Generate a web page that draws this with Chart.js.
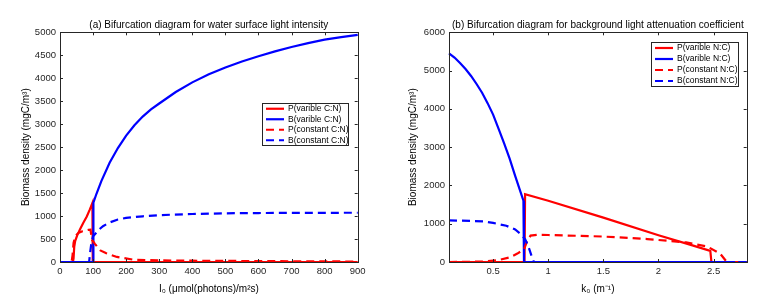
<!DOCTYPE html>
<html>
<head>
<meta charset="utf-8">
<script src="https://cdn.jsdelivr.net/npm/chart.js@4.4.0/dist/chart.umd.min.js"></script>
<style>
  body { margin: 0; background: #fff; }
  #wrap { position: relative; width: 769px; height: 308px; }
  .panel { position: absolute; top: 0; height: 308px; }
</style>
</head>
<body>
<div id="wrap">
  <div class="panel" style="left:0;width:385px"><canvas id="chartA"></canvas></div>
  <div class="panel" style="left:385px;width:384px"><canvas id="chartB"></canvas></div>
</div>
<script>
// (a) water surface light intensity I0
const aPvarX = [0, 39, 41, 43, 46, 52, 61, 71, 81, 90, 98, 99, 200, 900];
const aPvarY = [0, 0, 80, 330, 460, 580, 720, 860, 990, 1140, 1285, 0, 0, 0];

const aBvarX = [0, 101, 101, 110, 125, 150, 175, 200, 225, 250, 275, 300, 350, 400, 450, 500, 550, 600, 650, 700, 750, 800, 850, 900];
const aBvarY = [0, 0, 1290, 1480, 1760, 2160, 2480, 2750, 2975, 3165, 3320, 3450, 3700, 3910, 4085, 4235, 4365, 4480, 4585, 4680, 4765, 4840, 4895, 4945];

const aPconX = [0, 35, 38, 41, 46, 55, 66, 76, 86, 92, 97, 105, 122, 140, 172, 222, 300, 400, 500, 600, 700, 800, 900];
const aPconY = [0, 0, 150, 413, 560, 630, 665, 685, 700, 705, 480, 400, 253, 190, 110, 50, 35, 28, 24, 20, 16, 13, 10];

const aBconX = [0, 88, 91, 95, 100, 110, 117, 130, 150, 175, 200, 250, 300, 400, 500, 600, 700, 800, 900];
const aBconY = [0, 0, 200, 420, 560, 640, 700, 780, 860, 925, 960, 995, 1020, 1045, 1060, 1066, 1069, 1071, 1072];

const aXTicks = [0, 100, 200, 300, 400, 500, 600, 700, 800, 900];
const aYTicks = [0, 500, 1000, 1500, 2000, 2500, 3000, 3500, 4000, 4500, 5000];

// (b) background light attenuation coefficient k0
const bPvarX = [0.1, 0.5, 0.785, 0.79, 1.0, 1.5, 2.0, 2.3, 2.47, 2.48, 2.8];
const bPvarY = [0, 0, 0, 1770, 1600, 1160, 700, 440, 290, 0, 0];

const bBvarX = [0.1, 0.15, 0.2, 0.25, 0.3, 0.35, 0.4, 0.45, 0.5, 0.55, 0.6, 0.65, 0.7, 0.775, 0.78, 2.8];
const bBvarY = [5452, 5340, 5200, 5040, 4860, 4650, 4420, 4150, 3850, 3480, 3100, 2700, 2250, 1600, 0, 0];

const bPconX = [0.1, 0.4, 0.55, 0.65, 0.72, 0.78, 0.81, 0.84, 0.9, 1.0, 1.5, 1.9, 2.25, 2.44, 2.56, 2.62, 2.8];
const bPconY = [0, 10, 50, 120, 220, 330, 550, 690, 710, 705, 665, 600, 512, 407, 217, 0, 0];

const bBconX = [0.1, 0.3, 0.41, 0.5, 0.62, 0.7, 0.74, 0.79, 0.82, 0.85, 0.87, 2.8];
const bBconY = [1085, 1075, 1060, 1020, 947, 850, 756, 600, 408, 146, 0, 0];

const bXTicks = [0.5, 1, 1.5, 2, 2.5];
const bYTicks = [0, 1000, 2000, 3000, 4000, 5000, 6000];

const RED = 'rgb(255,0,0)';
const BLUE = 'rgb(0,0,255)';
const FONT = '"Liberation Sans", Arial, sans-serif';
const AXIS = '#262626';

function series(label, xs, ys, color, dashed, order) {
    return {
        label: label,
        data: xs.map((x, i) => ({x: x, y: ys[i]})),
        borderColor: color,
        backgroundColor: color,
        borderWidth: 2.2,
        borderDash: dashed ? [8, 5] : [],
        pointRadius: 0,
        tension: 0,
        fill: false,
        clip: false,
        order: order
    };
}

// box round the plot with inward ticks on all four sides
const matlabBox = {
    id: 'matlabBox',
    afterDatasetsDraw(chart) {
        const {ctx, chartArea: a, scales} = chart;
        ctx.save();
        ctx.strokeStyle = AXIS;
        ctx.lineWidth = 1;
        ctx.beginPath();
        scales.x.ticks.forEach(t => {
            const px = Math.round(scales.x.getPixelForValue(t.value)) + 0.5;
            ctx.moveTo(px, a.bottom); ctx.lineTo(px, a.bottom - 3);
            ctx.moveTo(px, a.top); ctx.lineTo(px, a.top + 3);
        });
        scales.y.ticks.forEach(t => {
            const py = Math.round(scales.y.getPixelForValue(t.value)) + 0.5;
            ctx.moveTo(a.left, py); ctx.lineTo(a.left + 3, py);
            ctx.moveTo(a.right, py); ctx.lineTo(a.right - 3, py);
        });
        ctx.stroke();
        ctx.strokeRect(Math.round(a.left) + 0.5, Math.round(a.top) + 0.5,
            Math.round(a.right - a.left), Math.round(a.bottom - a.top));
        ctx.restore();
    }
};

// title centred over the plot area, like the axes title in the figure
const plotTitle = {
    id: 'plotTitle',
    afterDraw(chart, args, opts) {
        const {ctx, chartArea: a} = chart;
        ctx.save();
        ctx.fillStyle = '#000';
        ctx.font = '10px ' + FONT;
        ctx.textAlign = 'center';
        ctx.textBaseline = 'middle';
        ctx.fillText(opts.text, (a.left + a.right) / 2, a.top - 7);
        ctx.restore();
    }
};

// legend box inside the plot
const boxLegend = {
    id: 'boxLegend',
    afterDraw(chart, args, opts) {
        const {ctx} = chart;
        const {x, y, w, h} = opts;
        ctx.save();
        ctx.fillStyle = '#fff';
        ctx.fillRect(x, y, w, h);
        ctx.strokeStyle = AXIS;
        ctx.lineWidth = 1;
        ctx.strokeRect(x + 0.5, y + 0.5, w, h);
        const rowH = h / chart.data.datasets.length;
        chart.data.datasets.forEach((ds, i) => {
            const cy = y + rowH * (i + 0.5) + 0.5;
            ctx.strokeStyle = ds.borderColor;
            ctx.lineWidth = 2.2;
            ctx.setLineDash(ds.borderDash.length ? [8, 5] : []);
            ctx.beginPath();
            ctx.moveTo(x + 4, cy);
            ctx.lineTo(x + 22, cy);
            ctx.stroke();
            ctx.setLineDash([]);
            ctx.fillStyle = '#000';
            ctx.font = '8.5px ' + FONT;
            ctx.textBaseline = 'middle';
            ctx.fillText(ds.label, x + 26, cy);
        });
        ctx.restore();
    }
};

function makeOptions(title, xTitle, xMin, xMax, xTicks, yMax, yTicks, yWidth, padRight, legendBox) {
    return {
        responsive: true,
        maintainAspectRatio: false,
        animation: false,
        layout: { padding: { left: 0, right: padRight, top: 32.3, bottom: 0 } },
        plugins: {
            legend: { display: false },
            tooltip: { enabled: false },
            title: { display: false },
            plotTitle: { text: title },
            boxLegend: legendBox
        },
        scales: {
            x: {
                type: 'linear',
                min: xMin,
                max: xMax,
                grid: { display: false, drawTicks: false },
                border: { display: false },
                afterBuildTicks: s => { s.ticks = xTicks.map(v => ({value: v})); },
                afterFit: s => { s.height = 46; },
                ticks: {
                    color: AXIS,
                    padding: 4,
                    maxRotation: 0,
                    font: { family: FONT, size: 9.5 },
                    callback: v => String(v)
                },
                title: {
                    display: true,
                    text: xTitle,
                    color: '#000',
                    font: { family: FONT, size: 10 },
                    padding: { top: 4, bottom: 13 }
                }
            },
            y: {
                type: 'linear',
                min: 0,
                max: yMax,
                grid: { display: false, drawTicks: false },
                border: { display: false },
                afterBuildTicks: s => { s.ticks = yTicks.map(v => ({value: v})); },
                afterFit: s => { s.width = yWidth; },
                ticks: {
                    color: AXIS,
                    padding: 4,
                    font: { family: FONT, size: 9.5 },
                    callback: v => String(v)
                },
                title: {
                    display: true,
                    text: 'Biomass density (mgC/m³)',
                    color: '#000',
                    font: { family: FONT, size: 10 },
                    padding: { top: yWidth === 60 ? 20.7 : 22, bottom: 4 }
                }
            }
        }
    };
}

new Chart(document.getElementById('chartA'), {
    type: 'line',
    data: {
        datasets: [
            series('P(varible C:N)', aPvarX, aPvarY, RED, false, 4),
            series('B(varible C:N)', aBvarX, aBvarY, BLUE, false, 3),
            series('P(constant C:N)', aPconX, aPconY, RED, true, 2),
            series('B(constant C:N)', aBconX, aBconY, BLUE, true, 1)
        ]
    },
    options: makeOptions('(a) Bifurcation diagram for water surface light intensity',
        'I₀ (μmol(photons)/m²s)', 0, 900, aXTicks, 5000, aYTicks, 60, 27.3,
        { x: 262, y: 103, w: 86, h: 42 }),
    plugins: [matlabBox, plotTitle, boxLegend]
});

new Chart(document.getElementById('chartB'), {
    type: 'line',
    data: {
        datasets: [
            series('P(varible N:C)', bPvarX, bPvarY, RED, false, 4),
            series('B(varible N:C)', bBvarX, bBvarY, BLUE, false, 3),
            series('P(constant N:C)', bPconX, bPconY, RED, true, 2),
            series('B(constant N:C)', bBconX, bBconY, BLUE, true, 1)
        ]
    },
    options: makeOptions('(b) Bifurcation diagram for background light attenuation coefficient',
        'k₀ (m⁻¹)', 0.1, 2.8, bXTicks, 6000, bYTicks, 64, 22.3,
        { x: 266, y: 42, w: 87, h: 44 }),
    plugins: [matlabBox, plotTitle, boxLegend]
});
</script>
</body>
</html>
